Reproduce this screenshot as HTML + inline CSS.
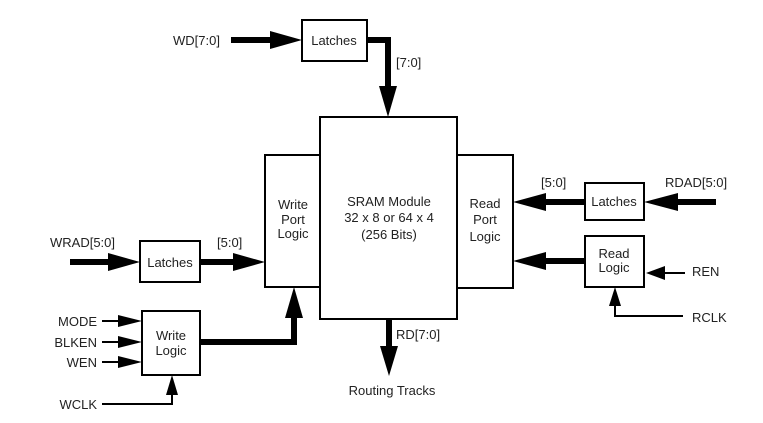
<!DOCTYPE html>
<html><head><meta charset="utf-8"><style>
html,body{margin:0;padding:0;background:#fff;}
svg{display:block;}
text{font-family:"Liberation Sans",Arial,sans-serif;font-size:13px;fill:#222;}
</style></head><body>
<svg width="763" height="423" viewBox="0 0 763 423" xmlns="http://www.w3.org/2000/svg">
<g fill="none" stroke="#000" stroke-width="2">
<rect x="320" y="117" width="137" height="202"/>
<rect x="265" y="155" width="55" height="132"/>
<rect x="457" y="155" width="56" height="133"/>
<rect x="302" y="20" width="65" height="41"/>
<rect x="140" y="241" width="60" height="41"/>
<rect x="142" y="311" width="58" height="64"/>
<rect x="585" y="183" width="59" height="37"/>
<rect x="585" y="236" width="59" height="51"/>
</g>
<g stroke="#000" fill="none">
<line x1="231" y1="40" x2="275" y2="40" stroke-width="6"/>
<polyline points="367,40 388,40 388,90" stroke-width="6"/>
<line x1="70" y1="262" x2="112" y2="262" stroke-width="6"/>
<line x1="200" y1="262" x2="240" y2="262" stroke-width="6"/>
<polyline points="200,342 294,342 294,312" stroke-width="6"/>
<line x1="389" y1="319" x2="389" y2="350" stroke-width="6"/>
<line x1="716" y1="202" x2="674" y2="202" stroke-width="6"/>
<line x1="585" y1="202" x2="540" y2="202" stroke-width="6"/>
<line x1="585" y1="261" x2="540" y2="261" stroke-width="6"/>
<line x1="102" y1="321" x2="122" y2="321" stroke-width="2"/>
<line x1="102" y1="342" x2="122" y2="342" stroke-width="2"/>
<line x1="102" y1="362" x2="122" y2="362" stroke-width="2"/>
<polyline points="102,404 172,404 172,392" stroke-width="2"/>
<line x1="685" y1="273" x2="662" y2="273" stroke-width="2"/>
<polyline points="683,316 615,316 615,304" stroke-width="2"/>
</g>
<g fill="#000">
<polygon points="302,40 270,31 270,49"/>
<polygon points="388,117 379,86 397,86"/>
<polygon points="140,262 108,253 108,271"/>
<polygon points="265,262 233,253 233,271"/>
<polygon points="294,287 285,318 303,318"/>
<polygon points="389,376 380,346 398,346"/>
<polygon points="644,202 678,193 678,211"/>
<polygon points="513,202 546,193 546,211"/>
<polygon points="513,261 546,252 546,270"/>
<polygon points="142,321 118,315 118,327"/>
<polygon points="142,342 118,336 118,348"/>
<polygon points="142,362 118,356 118,368"/>
<polygon points="172,375 166,395 178,395"/>
<polygon points="646,273 665,266 665,280"/>
<polygon points="615,287 609,306 621,306"/>
</g>
<g text-anchor="middle">
<text x="334" y="45">Latches</text>
<text x="170" y="267">Latches</text>
<text x="614" y="206">Latches</text>
<text x="614" y="258">Read</text><text x="614" y="272">Logic</text>
<text x="171" y="340">Write</text><text x="171" y="355">Logic</text>
<text x="293" y="209">Write</text><text x="293" y="224">Port</text><text x="293" y="238">Logic</text>
<text x="485" y="208">Read</text><text x="485" y="224">Port</text><text x="485" y="241">Logic</text>
<text x="389" y="206">SRAM Module</text>
<text x="389" y="222">32 x 8 or 64 x 4</text>
<text x="389" y="239">(256 Bits)</text>
<text x="392" y="395">Routing Tracks</text>
</g>
<text x="173" y="45">WD[7:0]</text>
<text x="396" y="67">[7:0]</text>
<text x="50" y="247">WRAD[5:0]</text>
<text x="217" y="247">[5:0]</text>
<text x="541" y="187">[5:0]</text>
<text x="665" y="187">RDAD[5:0]</text>
<text x="692" y="276">REN</text>
<text x="692" y="322">RCLK</text>
<text x="396" y="339">RD[7:0]</text>
<g text-anchor="end">
<text x="97" y="326">MODE</text>
<text x="97" y="347">BLKEN</text>
<text x="97" y="367">WEN</text>
<text x="97" y="409">WCLK</text>
</g>
</svg>
</body></html>
